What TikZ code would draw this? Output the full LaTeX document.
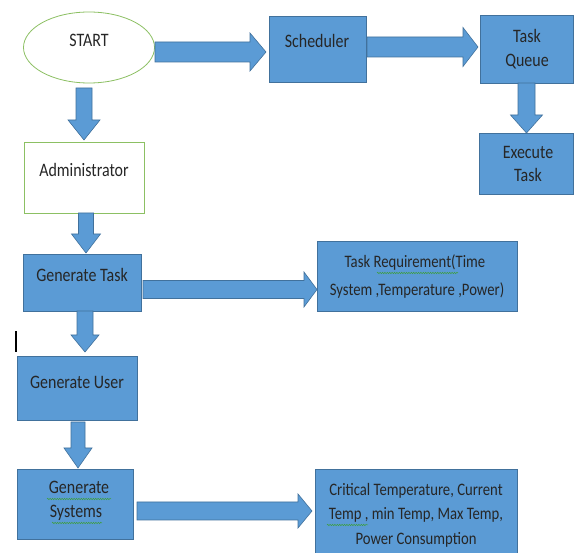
\documentclass[tikz,border=0pt]{standalone}
\usepackage{fontspec}
\setmainfont{Carlito}[FakeStretch=0.84]
\usetikzlibrary{decorations.pathmorphing,shapes.geometric}
\definecolor{bfill}{HTML}{5B9BD5}
\definecolor{bline}{HTML}{41719C}
\definecolor{gline}{HTML}{8CC063}
\definecolor{wavy}{HTML}{3E9E3E}
\tikzset{
  box/.style={draw=bline, fill=bfill, line width=0.8pt, inner sep=0pt},
  gbox/.style={draw=gline, fill=white, line width=0.8pt, inner sep=0pt},
  arr/.style={draw=bline, fill=bfill, line width=0.6pt, line join=miter},
  txt/.style={anchor=base, inner sep=0pt, text=black!85, font=\fontsize{19}{22}\selectfont},
  stxt/.style={anchor=base, inner sep=0pt, text=black!85, font=\fontsize{17.5}{20}\selectfont},
  spell/.style={draw=wavy, line width=0.5pt, decorate, decoration={snake, amplitude=0.7pt, segment length=2.4pt}}
}
% horizontal block arrow: x1, x2, yc, shaft half, head half, head length
\newcommand\harr[6]{\filldraw[arr] (#1,#3-#4) -- (#2-#6,#3-#4) -- (#2-#6,#3-#5) -- (#2,#3) -- (#2-#6,#3+#5) -- (#2-#6,#3+#4) -- (#1,#3+#4) -- cycle;}
% vertical block arrow: xc, y1, y2, shaft half, head half, head length
\newcommand\varr[6]{\filldraw[arr] (#1-#4,#2) -- (#1-#4,#3-#6) -- (#1-#5,#3-#6) -- (#1,#3) -- (#1+#5,#3-#6) -- (#1+#4,#3-#6) -- (#1+#4,#2) -- cycle;}
\begin{document}
\begin{tikzpicture}[x=1pt,y=-1pt]
\useasboundingbox (0,0) rectangle (574,553);
\clip (0,0) rectangle (574,553);
\fill[white] (0,0) rectangle (574,553);

% START
\node[draw=gline, fill=white, line width=0.8pt, ellipse, minimum width=131, minimum height=71, inner sep=0pt] (start) at (89,47.5) {};
\node[txt] (startT) at (89,47) {START};

% Scheduler
\node[box, minimum width=97, minimum height=66] (sched) at (317.5,49) {};
\node[txt] (schedT) at (317,48) {Scheduler};

% Task Queue
\node[box, minimum width=93, minimum height=68] (tq) at (526.5,49) {};
\node[txt] (tqT1) at (527,43) {Task};
\node[txt] (tqT2) at (527,67) {Queue};

% Execute Task
\node[box, minimum width=94, minimum height=61] (exec) at (526,163.5) {};
\node[txt] (execT1) at (528,159) {Execute};
\node[txt] (execT2) at (528,182) {Task};

% Administrator
\node[gbox, minimum width=120, minimum height=71] (admin) at (84,177.5) {};
\node[txt] (adminT) at (84,177) {Administrator};

% Generate Task
\node[box, minimum width=118, minimum height=57] (gt) at (82,282.5) {};
\node[txt] (gtT) at (82,282) {Generate Task};

% Task Requirement
\node[box, minimum width=200, minimum height=70] (tr) at (417,276) {};
\node[stxt] (trT1) at (415,268) {Task Requirement(Time};
\node[stxt] (trT2) at (417,296) {System ,Temperature ,Power)};
\draw[spell] (377,273) -- (458,273);

% Generate User
\node[box, minimum width=120, minimum height=64] (gu) at (77,388) {};
\node[txt] (guT) at (77,389) {Generate User};

% Generate Systems
\node[box, minimum width=116, minimum height=70] (gs) at (75,504) {};
\node[txt] (gsT1) at (79,494) {Generate};
\node[txt] (gsT2) at (76,518) {Systems};
\draw[spell] (47,499) -- (111,499);
\draw[spell] (52,523) -- (102,523);

% Critical
\node[box, minimum width=202, minimum height=90] (crit) at (416,514) {};
\node[stxt] (critT1) at (416,496) {Critical Temperature, Current};
\node[stxt] (critT2) at (416,520) {Temp , min Temp, Max Temp,};
\node[stxt] (critT3) at (416,545) {Power Consumption};
\draw[spell] (327,525) -- (368,525);

% block arrows
\harr{155}{266}{52}{10}{19}{16}
\harr{367}{478}{47}{10}{19.5}{15}
\harr{143}{317}{289.5}{9}{17.5}{13}
\harr{137}{312}{511}{9}{17}{14}
\varr{84}{88}{140}{8}{16}{20}
\varr{86}{213}{253}{7.5}{14.5}{19}
\varr{85}{311}{352}{8}{14}{17}
\varr{78}{422}{468}{7}{14}{20}
\varr{526.5}{83}{133}{8.5}{16}{18}

% text cursor mark
\fill[black] (15,331) rectangle (17,352);
\end{tikzpicture}
\end{document}
